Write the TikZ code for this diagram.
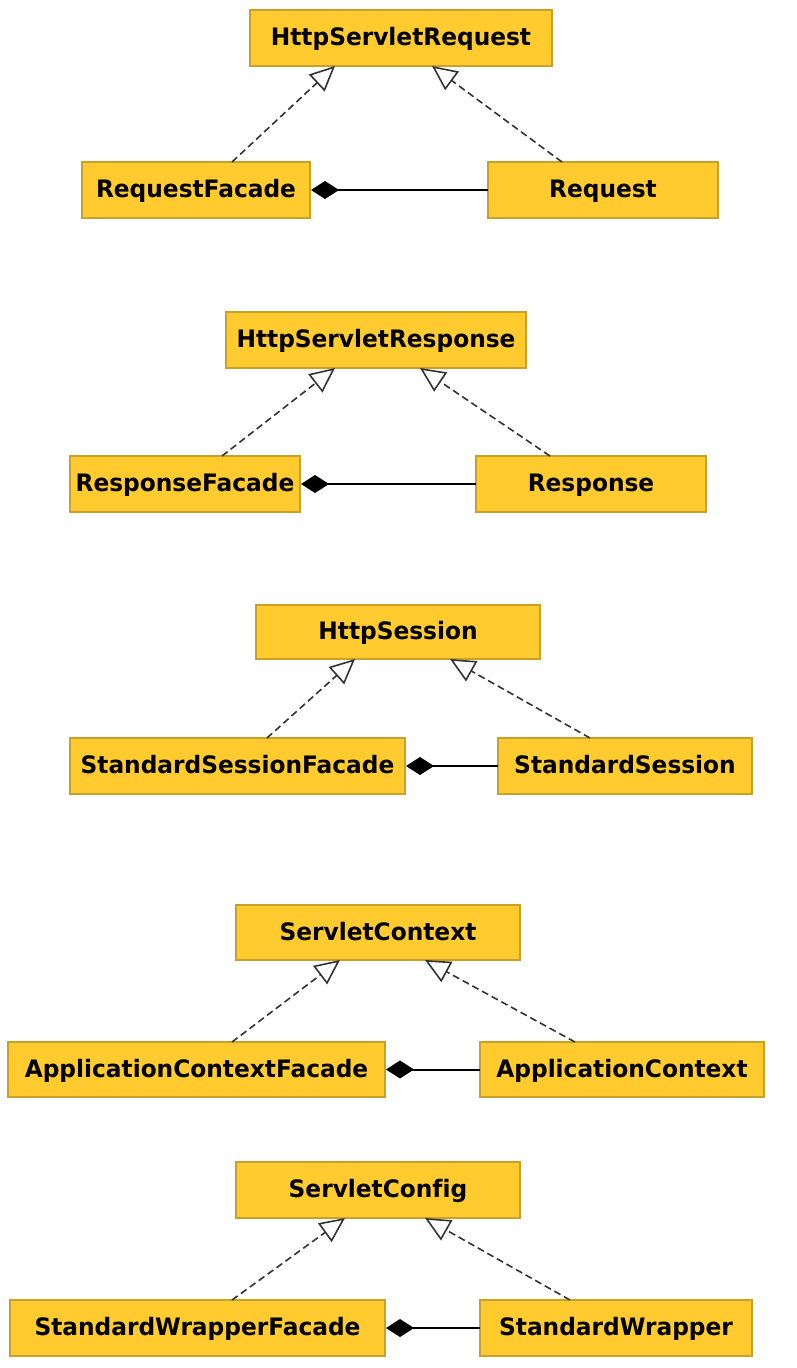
\documentclass[tikz,border=0pt]{standalone}
\usepackage{fontspec}
\setmainfont{DejaVu Sans}[FakeStretch=0.97, Ligatures=NoCommon]
\usetikzlibrary{arrows.meta}
\definecolor{boxfill}{HTML}{FFCB2F}
\definecolor{boxline}{HTML}{C9A02A}
\definecolor{dashgray}{HTML}{333333}
\tikzset{
  cls/.style={draw=boxline, line width=1.3pt, fill=boxfill, inner sep=0pt, outer sep=0pt,
    minimum height=56pt, font=\fontsize{24}{28}\selectfont\bfseries, text=black,
    text height=18pt, text depth=3pt},
  inh/.style={draw=dashgray, line width=1.6pt, dash pattern=on 7pt off 4pt,
    -{Triangle[open, length=25pt, width=23pt, fill=white, line width=1.6pt, sep=0pt]}},
  comp/.style={draw=black, line width=2pt,
    -{Diamond[length=28pt, width=18pt, fill=black, sep=1pt]}},
}
\begin{document}
\begin{tikzpicture}[x=1pt, y=-1pt]
\useasboundingbox[fill=white] (0,0) rectangle (796,1368);
% Group 1
\node[cls, minimum width=302pt] (hsr) at (401,38) {HttpServletRequest};
\node[cls, minimum width=228pt] (rf) at (196,190) {RequestFacade};
\node[cls, minimum width=230pt] (req) at (603,190) {Request};
\draw[inh] ([xshift=36pt]rf.north) -- ([xshift=-66pt]hsr.south);
\draw[inh] ([xshift=-41pt]req.north) -- ([xshift=31pt]hsr.south);
\draw[comp] (req.west) -- (rf.east);
% Group 2
\node[cls, minimum width=300pt] (hsp) at (376,340) {HttpServletResponse};
\node[cls, minimum width=230pt] (spf) at (185,484) {ResponseFacade};
\node[cls, minimum width=230pt] (rsp) at (591,484) {Response};
\draw[inh] ([xshift=37pt]spf.north) -- ([xshift=-41pt]hsp.south);
\draw[inh] ([xshift=-41pt]rsp.north) -- ([xshift=44pt]hsp.south);
\draw[comp] (rsp.west) -- (spf.east);
% Group 3
\node[cls, minimum width=284pt, minimum height=54pt] (hs) at (398,632) {HttpSession};
\node[cls, minimum width=335pt] (ssf) at (237.5,766) {StandardSessionFacade};
\node[cls, minimum width=254pt] (ss) at (625,766) {StandardSession};
\draw[inh] ([xshift=29.5pt]ssf.north) -- ([xshift=-43pt]hs.south);
\draw[inh] ([xshift=-35pt]ss.north) -- ([xshift=52pt]hs.south);
\draw[comp] (ss.west) -- (ssf.east);
% Group 4
\node[cls, minimum width=284pt, minimum height=55pt] (sc) at (378,932.5) {ServletContext};
\node[cls, minimum width=377pt, minimum height=55pt] (acf) at (196.5,1069.5) {ApplicationContextFacade};
\node[cls, minimum width=284pt, minimum height=55pt] (ac) at (622,1069.5) {ApplicationContext};
\draw[inh] ([xshift=35.5pt]acf.north) -- ([xshift=-38pt]sc.south);
\draw[inh] ([xshift=-47pt]ac.north) -- ([xshift=47pt]sc.south);
\draw[comp] (ac.west) -- (acf.east);
% Group 5
\node[cls, minimum width=284pt] (scf) at (378,1190) {ServletConfig};
\node[cls, minimum width=375pt] (swf) at (197.5,1328) {StandardWrapperFacade};
\node[cls, minimum width=272pt] (sw) at (616,1328) {StandardWrapper};
\draw[inh] ([xshift=34.5pt]swf.north) -- ([xshift=-33pt]scf.south);
\draw[inh] ([xshift=-46pt]sw.north) -- ([xshift=47pt]scf.south);
\draw[comp] (sw.west) -- (swf.east);
\end{tikzpicture}
\end{document}
